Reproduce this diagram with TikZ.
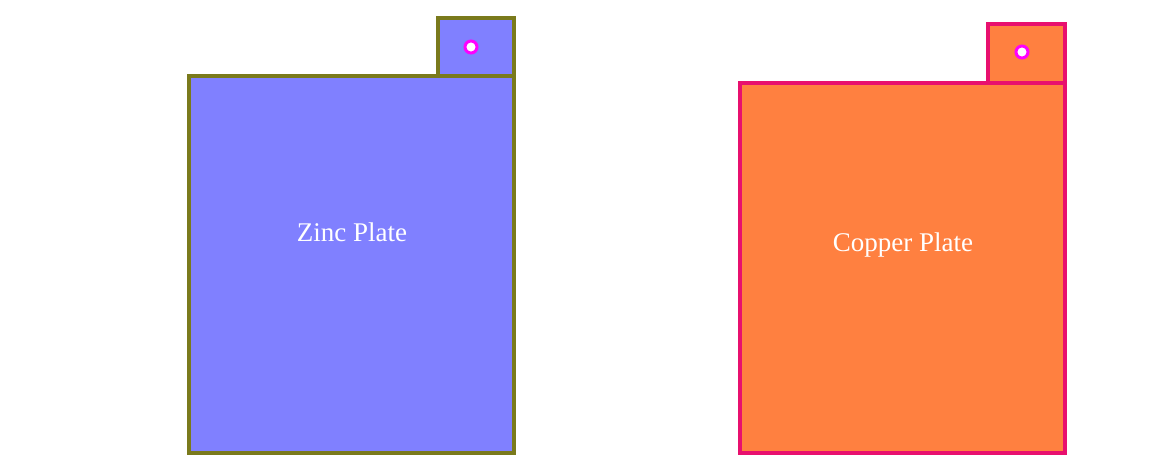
\documentclass[tikz,border=0pt]{standalone}
\usepackage{fontspec}
\setmainfont{Liberation Serif}
\definecolor{zincfill}{HTML}{8080FF}
\definecolor{zincedge}{HTML}{7A7A1C}
\definecolor{cufill}{HTML}{FF8040}
\definecolor{cuedge}{HTML}{E8106E}
\definecolor{holering}{HTML}{FF00FF}
\tikzset{
  platebox/.style={line width=4pt, line join=miter},
  hole/.style={circle, draw=holering, fill=white, line width=3pt, minimum size=12pt, inner sep=0pt},
  platelabel/.style={text=white, font=\fontsize{27}{32}\selectfont, inner sep=0pt}
}
\begin{document}
\begin{tikzpicture}[x=1pt,y=1pt]
\useasboundingbox (0,0) rectangle (1168,455);
% Zinc plate
\draw[platebox, draw=zincedge, fill=zincfill] (438,379) rectangle (514,437);
\draw[platebox, draw=zincedge, fill=zincfill] (189,2) rectangle (514,379);
\node[hole] (zinchole) at (471,408) {};
\node[platelabel] (zinclabel) at (352,223) {Zinc Plate};
% Copper plate
\draw[platebox, draw=cuedge, fill=cufill] (988,372) rectangle (1065,431);
\draw[platebox, draw=cuedge, fill=cufill] (740,2) rectangle (1065,372);
\node[hole] (cuhole) at (1022,403) {};
\node[platelabel] (culabel) at (903,210) {Copper Plate};
\end{tikzpicture}
\end{document}
